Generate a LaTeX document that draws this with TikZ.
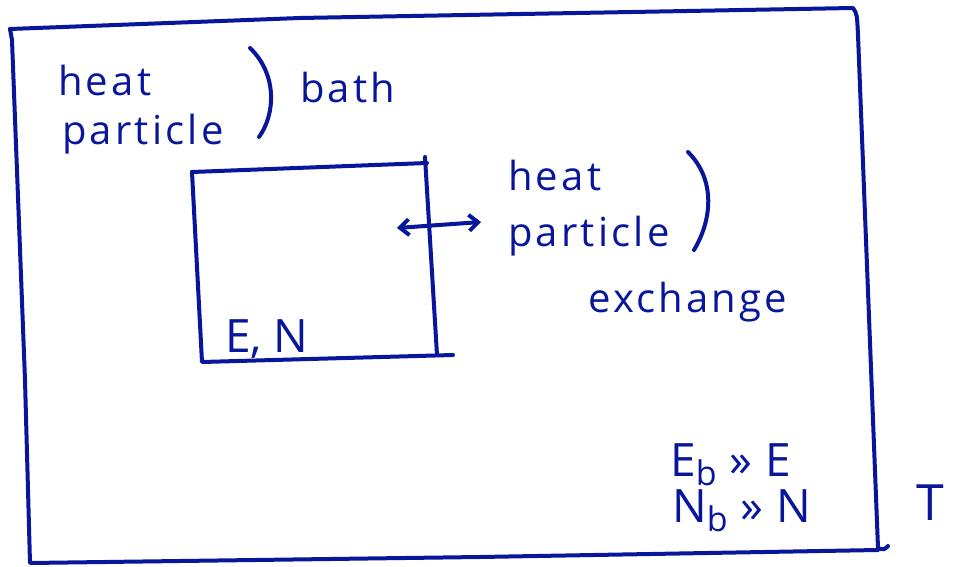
\documentclass[tikz,border=0pt]{standalone}
\usepackage{fontspec}
\setmainfont{Open Sans}
\setsansfont{Open Sans}
\usepackage{tikz}
\usetikzlibrary{arrows.meta}
\usepackage{xcolor}
\definecolor{inkBlue}{RGB}{8,22,155}
\newcommand{\inkWidth}{4pt}
\newcommand{\smallHand}{\fontsize{40}{46}\selectfont\addfontfeatures{LetterSpace=8}}
\newcommand{\bigHand}{\fontsize{46}{52}\selectfont}
\newcommand{\subHand}[1]{\raisebox{-9pt}{\fontsize{34}{40}\selectfont #1}}

\tikzset{
  ink/.style={draw=inkBlue, line width=\inkWidth, line cap=round, line join=round},
  handtext/.style={text=inkBlue, font=\smallHand, inner sep=0pt, anchor=base west},
  handcaps/.style={text=inkBlue, font=\bigHand, inner sep=0pt, anchor=base west}
}

\begin{document}
\begin{tikzpicture}[x=1pt, y=-1pt]
   \useasboundingbox (0,0) rectangle (958,567);

   % bath (outer box)
   \draw[ink] (10,29) -- (300,18) -- (853,8) .. controls (857,14) .. (858,35)
      -- (878,548) .. controls (884,550) .. (888,546);
   \draw[ink] (10,29) -- (12,40) -- (25,380) -- (30,563) -- (480,557) -- (878,550);

   % system (inner box)
   \draw[ink] (192,172) -- (427,163);
   \draw[ink] (425,157) -- (437,355);
   \draw[ink] (192,172) -- (202,362) -- (453,355);

         \node[handtext] (bathHeat) at (58,96) {heat};
         \node[handtext] (bathParticle) at (62,144) {particle};
         \node[handtext] (bathWord) at (300,103) {bath};
   \draw[ink] (250,48) .. controls (278,75) and (275,115) .. (259,137);

         \node[handtext] (xchHeat) at (508,190) {heat};
         \node[handtext] (xchParticle) at (508,246) {particle};
         \node[handtext] (xchWord) at (588,312) {exchange};
   \draw[ink] (688,152) .. controls (716,180) and (712,220) .. (694,250);

         \node[handcaps] (sysVars) at (225,352) {E, N};
         \node[handcaps] (energyCmp) at (670,476) {E\subHand{b}\;»\;E};
         \node[handcaps] (numberCmp) at (672,522) {N\subHand{b}\;»\;N};
         \node[handcaps, font=\fontsize{50}{56}\selectfont] (temp) at (916,520) {T};

   \coordinate (arrowIn) at (397,228);
   \coordinate (arrowOut) at (481,222);
   \draw[ink, {Straight Barb[length=9pt,width=16pt]}-{Straight Barb[length=9pt,width=16pt]}] (arrowIn) -- (arrowOut);

\end{tikzpicture}
\end{document}
